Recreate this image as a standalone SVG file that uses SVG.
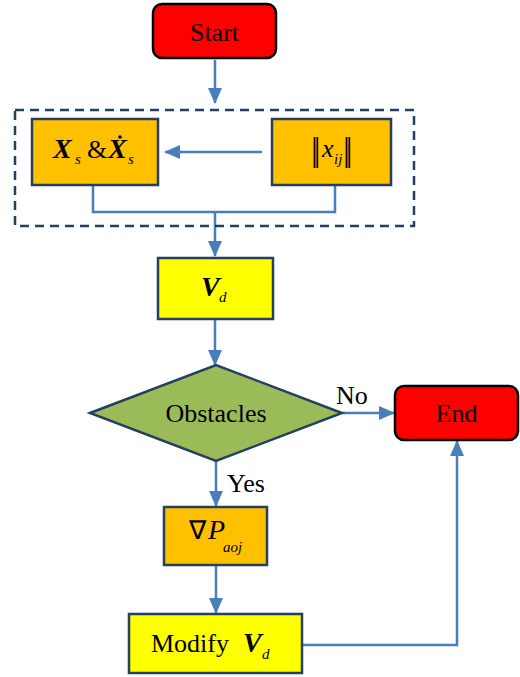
<svg xmlns="http://www.w3.org/2000/svg" width="520" height="677" viewBox="0 0 520 677">
<style>
.t{font-family:"Liberation Serif","Times New Roman",serif;font-size:26px;fill:#000}
.bi{font-weight:bold;font-style:italic;font-size:28px}
.sub{font-style:italic;font-weight:normal;font-size:15px}
.box{stroke:#243F60;stroke-width:2.5}
.term{fill:#FF0000;stroke:#000;stroke-width:2.5}
.c{fill:none;stroke:#4A7EBB;stroke-width:2.5}
</style>
<defs>
<marker id="ahL" markerWidth="16" markerHeight="14" refX="15" refY="7" orient="auto" markerUnits="userSpaceOnUse" viewBox="0 0 16 14">
<path d="M0,0 L16,7 L0,14 z" fill="#4A7EBB"/>
</marker>
</defs>
<g id="connectors">
<path class="c" d="M215,60 V103" marker-end="url(#ahL)"/>
<path class="c" d="M262,152 H165" marker-end="url(#ahL)"/>
<path class="c" d="M93,185 V212 H335 V185"/>
<path class="c" d="M215,212 V256" marker-end="url(#ahL)"/>
<path class="c" d="M215,320 V365" marker-end="url(#ahL)"/>
<path class="c" d="M342,413 H394" marker-end="url(#ahL)"/>
<path class="c" d="M216,461 V506" marker-end="url(#ahL)"/>
<path class="c" d="M216,566 V613" marker-end="url(#ahL)"/>
<path class="c" d="M302,645 H457 V441" marker-end="url(#ahL)"/>
<text class="t" x="336" y="404" font-size="24">No</text>
<text class="t" x="227" y="492" font-size="24">Yes</text>
</g>
<g id="group">
<rect x="15" y="110" width="399" height="116" fill="none" stroke="#243F60" stroke-width="2.5" stroke-dasharray="9,6"/>
</g>
<g id="start">
<rect class="term" x="153" y="4" width="123" height="54" rx="9"/>
<text class="t" x="214.5" y="41" text-anchor="middle">Start</text>
</g>
<g id="xs">
<rect class="box" x="32" y="119" width="126" height="66" fill="#FFC000"/>
<text class="t"><tspan class="bi" x="53" y="158">X</tspan><tspan class="sub" x="75" y="164">s</tspan><tspan x="87" y="158">&amp;</tspan><tspan class="bi" x="108" y="158">X</tspan><tspan class="sub" x="128" y="164">s</tspan></text>
<circle cx="120" cy="137" r="1.8" fill="#000"/>
</g>
<g id="xij">
<rect class="box" x="272" y="119" width="119" height="66" fill="#FFC000"/>
<text class="t"><tspan x="311" y="161" font-size="34" letter-spacing="-4">||</tspan><tspan x="322" y="157" font-style="italic">x</tspan><tspan class="sub" x="334" y="164">ij</tspan><tspan x="343" y="161" font-size="34" letter-spacing="-4">||</tspan></text>
</g>
<g id="vd">
<rect class="box" x="158" y="258" width="115" height="61" fill="#FFFF00"/>
<text class="t"><tspan class="bi" x="201" y="296">V</tspan><tspan class="sub" x="219" y="302">d</tspan></text>
</g>
<g id="obstacles">
<polygon class="box" points="90,413 216,365 342,413 216,461" fill="#9BBB59"/>
<text class="t" x="216" y="422" text-anchor="middle">Obstacles</text>
</g>
<g id="end">
<rect class="term" x="395" y="386" width="123" height="54" rx="9"/>
<text class="t" x="456.5" y="422" text-anchor="middle">End</text>
</g>
<g id="gradp">
<rect class="box" x="164" y="507" width="103" height="58" fill="#FFC000"/>
<text class="t"><tspan x="189" y="539" font-family="Liberation Serif">∇</tspan><tspan x="208" y="539" font-style="italic" font-size="28">P</tspan><tspan class="sub" x="223" y="552" font-size="18">aoj</tspan></text>
</g>
<g id="modify">
<rect class="box" x="129" y="614" width="173" height="59" fill="#FFFF00"/>
<text class="t"><tspan x="151" y="652">Modify</tspan><tspan class="bi" x="243" y="652">V</tspan><tspan class="sub" x="262" y="659">d</tspan></text>
</g>
</svg>
